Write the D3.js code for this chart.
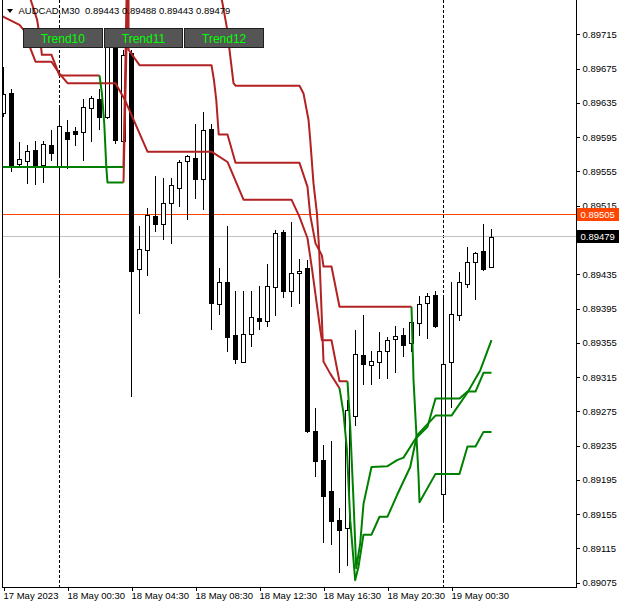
<!DOCTYPE html>
<html><head><meta charset="utf-8">
<script src="https://cdn.jsdelivr.net/npm/d3@7"></script>
<style>html,body{margin:0;padding:0;background:#fff;overflow:hidden}</style>
</head><body>
<svg id="c" width="622" height="608"></svg>
<script>
// ---------------- data ----------------
const symbolText = "AUDCAD,M30  0.89443 0.89488 0.89443 0.89479";
const buttons = ["Trend10", "Trend11", "Trend12"];
const opens  = [0.89623,0.89647,0.89564,0.89567,0.89580,0.89563,0.89586,0.89560,0.89601,0.89602,
                0.89601,0.89629,0.89640,0.89618,0.89706,0.89591,0.89693,0.89441,0.89463,0.89503,
                0.89494,0.89518,0.89536,0.89567,0.89571,0.89546,0.89604,0.89400,0.89426,0.89364,
                0.89333,0.89365,0.89384,0.89380,0.89420,0.89484,0.89416,0.89436,0.89442,0.89252,
                0.89218,0.89182,0.89148,0.89139,0.89270,0.89341,0.89329,0.89333,0.89345,0.89359,
                0.89364,0.89355,0.89378,0.89401,0.89411,0.89178,0.89333,0.89387,0.89424,0.89449,
                0.89462,0.89443];
const highs  = [0.89677,0.89651,0.89589,0.89586,0.89591,0.89590,0.89603,0.89629,0.89615,0.89607,
                0.89639,0.89643,0.89651,0.89714,0.89711,0.89697,0.89697,0.89491,0.89512,0.89550,
                0.89547,0.89547,0.89568,0.89574,0.89610,0.89624,0.89610,0.89442,0.89491,0.89415,
                0.89416,0.89415,0.89421,0.89447,0.89487,0.89487,0.89496,0.89453,0.89452,0.89279,
                0.89236,0.89240,0.89162,0.89288,0.89370,0.89387,0.89345,0.89368,0.89362,0.89374,
                0.89372,0.89382,0.89410,0.89413,0.89415,0.89409,0.89426,0.89438,0.89467,0.89461,
                0.89494,0.89488];
const lows   = [0.89620,0.89555,0.89563,0.89541,0.89540,0.89543,0.89568,0.89434,0.89559,0.89586,
                0.89568,0.89590,0.89605,0.89617,0.89588,0.89588,0.89293,0.89390,0.89434,0.89486,
                0.89476,0.89471,0.89515,0.89500,0.89524,0.89511,0.89371,0.89388,0.89345,0.89331,
                0.89332,0.89351,0.89371,0.89374,0.89387,0.89409,0.89398,0.89402,0.89251,0.89199,
                0.89122,0.89120,0.89088,0.89096,0.89259,0.89307,0.89307,0.89314,0.89314,0.89321,
                0.89339,0.89345,0.89364,0.89361,0.89373,0.89148,0.89280,0.89381,0.89420,0.89406,
                0.89440,0.89443];
const closes = [0.89645,0.89562,0.89569,0.89579,0.89562,0.89587,0.89577,0.89608,0.89593,0.89599,
                0.89630,0.89641,0.89619,0.89708,0.89592,0.89691,0.89439,0.89464,0.89504,0.89494,
                0.89518,0.89539,0.89566,0.89573,0.89546,0.89603,0.89401,0.89426,0.89362,0.89336,
                0.89365,0.89385,0.89380,0.89421,0.89483,0.89416,0.89437,0.89439,0.89252,0.89217,
                0.89176,0.89147,0.89137,0.89277,0.89342,0.89330,0.89334,0.89345,0.89358,0.89363,
                0.89352,0.89379,0.89400,0.89410,0.89374,0.89330,0.89388,0.89426,0.89449,0.89460,
                0.89441,0.89479];

const priceTicks = [0.89715,0.89675,0.89635,0.89595,0.89555,0.89515,0.89475,0.89435,0.89395,
                    0.89355,0.89315,0.89275,0.89235,0.89195,0.89155,0.89115,0.89075];
const timeTickBars   = [0, 8, 16, 24, 32, 40, 48, 56];
const timeTickLabels = ["17 May 2023","18 May 00:30","18 May 04:30","18 May 08:30",
                        "18 May 12:30","18 May 16:30","18 May 20:30","19 May 00:30"];
const daySeparatorBars = [7, 55];
const askPrice = 0.89505;
const bidPrice = 0.89479;

// trend lines: [bar index, price]
const trendA_red = [[-1,0.89740],[2,0.89726],[2.7,0.89718],[3.3,0.89700],[4,0.89683],[6,0.89683],[7,0.89669],[8,0.89658],[14,0.89658],[15.2,0.89638],[18,0.89578],[26,0.89578],[28,0.89566],[30,0.89522],[36,0.89522],[37,0.89502],[38,0.89477],[38.55,0.89442],[39.6,0.89370],[39.8,0.89358],[41,0.89358],[42,0.89310],[43,0.89310]];
const trendA_green = [[43,0.89310],[43.34,0.89257],[43.75,0.89171],[44.09,0.89092],[44.59,0.89121],[45,0.89167],[46,0.89210],[48,0.89211],[49.2,0.89218],[50,0.89221],[51.5,0.89243],[53,0.89257],[54,0.89290],[57,0.89290],[58,0.89298],[59,0.89298],[60,0.89320],[61,0.89320]];
const trendB_red1 = [[3.2,0.89761],[4.2,0.89732],[4.6,0.89708],[4.8,0.89691],[6,0.89691],[7,0.89667],[12,0.89667]];
const trendB_green1 = [[12,0.89667],[12.3,0.89646],[12.6,0.89610],[12.85,0.89560],[13,0.89542],[15,0.89542]];
const trendB_red2 = [[15,0.89542],[15.53,0.89767],[15.63,0.89767],[15.63,0.89697],[17,0.89679],[26,0.89679],[26.3,0.89662],[26.6,0.89638],[26.9,0.89598],[28,0.89598],[29,0.89565],[37,0.89565],[38,0.89537],[38.34,0.89504],[39,0.89471],[39.8,0.89457],[40,0.89444],[41,0.89444],[42,0.89397],[51,0.89397]];
const trendB_green2 = [[51,0.89397],[51.25,0.89312],[51.6,0.89250],[51.88,0.89199],[52,0.89169],[54,0.89202],[57,0.89202],[58,0.89234],[59,0.89234],[60,0.89251],[61,0.89251]];
const trendC_green1 = [[-1,0.89560],[15,0.89560]];
const trendC_red = [[15,0.89560],[15.4,0.89767],[26.6,0.89767],[27.3,0.89755],[27.9,0.89724],[28.75,0.89658],[29,0.89655],[37,0.89655],[37.5,0.89646],[38.13,0.89615],[38.34,0.89592],[38.75,0.89541],[39.18,0.89506],[39.46,0.89463],[39.8,0.89382],[40,0.89333],[40.84,0.89319],[42,0.89302]];
const trendC_green2 = [[42,0.89302],[42.5,0.89273],[42.93,0.89230],[43.34,0.89148],[43.96,0.89078],[44.38,0.89094],[45,0.89131],[46,0.89131],[47,0.89152],[48,0.89152],[49.18,0.89177],[50.84,0.89210],[51.68,0.89247],[54,0.89270],[56,0.89270],[58,0.89297],[59.6,0.89323],[61,0.89358]];

// ---------------- drawing ----------------
const svg = d3.select("#c");
const FONT = "'Liberation Sans', Arial, sans-serif";
const plotL = 2.5, plotR = 576.5, plotB = 587.5;
const x = d3.scaleLinear().domain([0, 61]).range([3.5, 491.5]);
const y = d3.scaleLinear().domain([0.89075, 0.89715]).range([582.7, 34.3]);

svg.append("rect").attr("width",622).attr("height",608).attr("fill","#fff");
svg.append("defs").append("clipPath").attr("id","plot")
  .append("rect").attr("x",3).attr("y",0).attr("width",plotR-3).attr("height",plotB-0.5);

const plot = svg.append("g").attr("clip-path","url(#plot)");

// day separators
plot.selectAll("line.sep").data(daySeparatorBars).join("line")
  .attr("x1", d => x(d)).attr("x2", d => x(d)).attr("y1", 0).attr("y2", plotB)
  .attr("stroke","#000").attr("stroke-width",1).attr("stroke-dasharray","3,2")
  .attr("shape-rendering","crispEdges");

// ask / bid lines
const snap = v => Math.round(v - 0.5) + 0.5;
plot.append("line").attr("x1",plotL).attr("x2",plotR)
  .attr("y1",snap(y(askPrice))).attr("y2",snap(y(askPrice)))
  .attr("stroke","#ff4500").attr("stroke-width",1).attr("shape-rendering","crispEdges");
plot.append("line").attr("x1",plotL).attr("x2",plotR)
  .attr("y1",snap(y(bidPrice))).attr("y2",snap(y(bidPrice)))
  .attr("stroke","#c0c0c0").attr("stroke-width",1).attr("shape-rendering","crispEdges");

// candles
const bars = d3.range(opens.length).map(i => ({i, o:opens[i], h:highs[i], l:lows[i], c:closes[i]}));
const cg = plot.append("g").attr("shape-rendering","crispEdges");
cg.selectAll("line.wick").data(bars).join("line")
  .attr("x1", d => x(d.i)).attr("x2", d => x(d.i))
  .attr("y1", d => Math.round(y(d.h))).attr("y2", d => Math.round(y(d.l)) + 1)
  .attr("stroke","#000").attr("stroke-width",1);
cg.selectAll("rect.body").data(bars).join("rect")
  .attr("x", d => x(d.i) - 2)
  .attr("width", 4)
  .attr("y", d => Math.round(y(Math.max(d.o, d.c))) + 0.5)
  .attr("height", d => Math.max(1, Math.round(y(Math.min(d.o, d.c))) - Math.round(y(Math.max(d.o, d.c)))))
  .attr("fill", d => d.c < d.o ? "#000" : "#fff")
  .attr("stroke","#000").attr("stroke-width",1);

// trend lines
const line = d3.line().x(d => x(d[0])).y(d => y(d[1]));
const RED = "#b22222", GREEN = "#008000";
[[trendA_red,RED],[trendA_green,GREEN],[trendB_red1,RED],[trendB_green1,GREEN],
 [trendB_red2,RED],[trendB_green2,GREEN],[trendC_green1,GREEN],[trendC_red,RED],[trendC_green2,GREEN]]
 .forEach(([pts,col]) => {
   plot.append("path").attr("d", line(pts)).attr("fill","none")
     .attr("stroke", col).attr("stroke-width", 2).attr("stroke-linejoin","round");
 });

// frame
const fr = svg.append("g").attr("stroke","#000").attr("stroke-width",1).attr("shape-rendering","crispEdges");
fr.append("line").attr("x1",plotL).attr("x2",plotL).attr("y1",0).attr("y2",plotB);
fr.append("line").attr("x1",plotR).attr("x2",plotR).attr("y1",0).attr("y2",plotB);
fr.append("line").attr("x1",plotL).attr("x2",plotR).attr("y1",plotB).attr("y2",plotB);

// right price axis
const ya = svg.append("g").attr("transform",`translate(${plotR},0)`)
  .call(d3.axisRight(y).tickValues(priceTicks).tickSize(3).tickPadding(3).tickFormat(d3.format(".5f")));
ya.select(".domain").remove();
ya.selectAll("line").attr("stroke","#000").attr("shape-rendering","crispEdges");
ya.selectAll("text").attr("font-family",FONT).attr("font-size","9.5px").attr("fill","#000");

// bottom time axis
const xa = svg.append("g").attr("transform",`translate(0,${plotB - 0.5})`)
  .call(d3.axisBottom(x).tickValues(timeTickBars).tickSize(4).tickPadding(1)
        .tickFormat((d,i) => timeTickLabels[i]));
xa.select(".domain").remove();
xa.selectAll("line").attr("stroke","#000").attr("shape-rendering","crispEdges");
xa.selectAll("text").attr("font-family",FONT).attr("font-size","9.5px").attr("fill","#000")
  .attr("text-anchor","start").attr("x",-0.5);

// price label boxes
function priceBox(p, bg) {
  const yy = snap(y(p));
  svg.append("rect").attr("x",577).attr("y",yy-6.5).attr("width",42).attr("height",13).attr("fill",bg);
  svg.append("text").attr("x",580.5).attr("y",yy+3.5).attr("font-family",FONT).attr("font-size","9.5px")
    .attr("fill","#fff").text(d3.format(".5f")(p));
}
priceBox(askPrice, "#ff4500");
priceBox(bidPrice, "#000");

// header
svg.append("path").attr("d","M7,9 L13,9 L10,13 Z").attr("fill","#000");
svg.append("text").attr("x",18.5).attr("y",14).attr("font-family",FONT).attr("font-size","9.5px")
  .attr("fill","#000").attr("xml:space","preserve").style("white-space","pre").text(symbolText);

// buttons
const bx = d3.scaleBand().domain(buttons).range([23.5, 263.5]).paddingInner(0.025);
const bg = svg.selectAll("g.btn").data(buttons).join("g").attr("class","btn");
bg.append("rect").attr("x", d => bx(d)).attr("y",28.5).attr("width", bx.bandwidth()).attr("height",19)
  .attr("fill","#555").attr("stroke","#1e1e1e").attr("stroke-width",1).attr("shape-rendering","crispEdges");
bg.append("text").attr("x", d => bx(d) + bx.bandwidth()/2).attr("y",42.5).attr("text-anchor","middle")
  .attr("font-family",FONT).attr("font-size","12px").attr("fill","#00ff00").text(d => d);
</script>
</body></html>
